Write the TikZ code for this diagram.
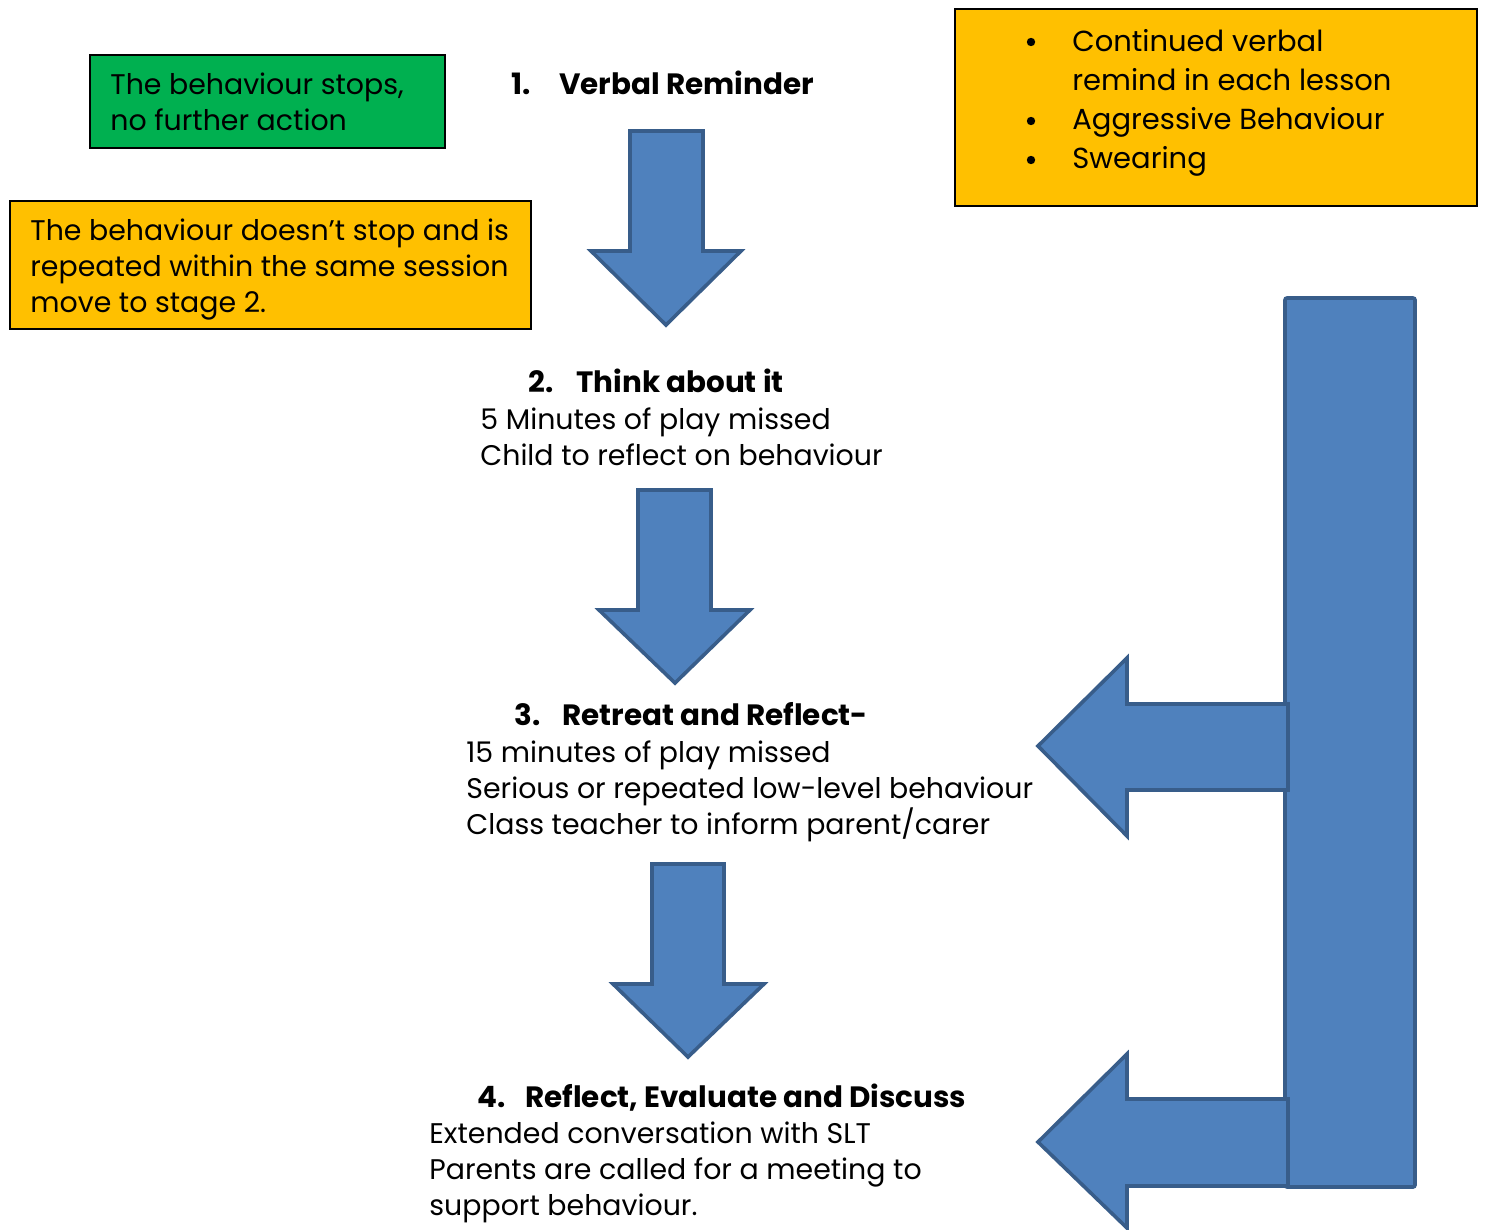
\documentclass[tikz,border=0pt]{standalone}
\usepackage{fontspec}
\setmainfont{Poppins}
\definecolor{arrowfill}{HTML}{4F81BD}
\definecolor{arrowline}{HTML}{385D8A}
\definecolor{greenbox}{HTML}{00B050}
\definecolor{orangebox}{HTML}{FFC000}
\begin{document}
\begin{tikzpicture}[x=0.5pt,y=-0.5pt,
  body/.style={font=\fontsize{14.2}{18}\selectfont, inner sep=0pt, anchor=base west, align=left},
  head/.style={font=\bfseries\fontsize{14.7}{18}\selectfont, inner sep=0pt, anchor=base west},
  listtext/.style={font=\fontsize{14.5}{19.5}\selectfont, inner sep=0pt, anchor=base west, align=left},
  bulletmark/.style={circle, fill=black, inner sep=0pt, minimum size=4.2pt},
  blockarrow/.style={fill=arrowfill, draw=arrowline, line width=1.8pt, line join=miter},
  notebox/.style={draw=black, line width=0.7pt}]
\useasboundingbox (0,0) rectangle (1485,1230);

% boxes
\draw[notebox, fill=greenbox] (90,55) rectangle (445,148);
\draw[notebox, fill=orangebox] (10,201) rectangle (531,329);
\draw[notebox, fill=orangebox] (955,9) rectangle (1477,206);

% multi-line texts are placed by the baseline of their last line
\node[body] (stops) at (110,131) {The behaviour stops,\\no further action};
\node[body] (repeat) at (30,313) {The behaviour doesn’t stop and is\\repeated within the same session\\move to stage 2.};

\node[bulletmark] (b1) at (1031,42) {};
\node[bulletmark] (b2) at (1031,121) {};
\node[bulletmark] (b3) at (1031,160) {};
\node[listtext] (list) at (1072,169) {Continued verbal\\remind in each lesson\\Aggressive Behaviour\\Swearing};

% headings and texts
\node[head] (s1) at (511,95) {\makebox[24pt][l]{1.}Verbal Reminder};
\node[head] (s2) at (528,393) {\makebox[24pt][l]{2.}Think about it};
\node[body] (t2) at (480,466) {5 Minutes of play missed\\Child to reflect on behaviour};
\node[head] (s3) at (514,725) {\makebox[24pt][l]{3.}Retreat and Reflect-};
\node[body] (t3) at (466,834) {15 minutes of play missed\\Serious or repeated low-level behaviour\\Class teacher to inform parent/carer};
\node[head] (s4) at (477,1107) {\makebox[24pt][l]{4.}Reflect, Evaluate and Discuss};
\node[body] (t4) at (429,1215) {Extended conversation with SLT\\Parents are called for a meeting to\\support behaviour.};

% down arrows
\draw[blockarrow] (630,131) -- (703,131) -- (703,251) -- (741,251) -- (666,325) -- (591,251) -- (630,251) -- cycle;
\draw[blockarrow] (638,490) -- (711,490) -- (711,610) -- (750,610) -- (675,683) -- (599,610) -- (638,610) -- cycle;
\draw[blockarrow] (652,864) -- (724,864) -- (724,984) -- (764,984) -- (688,1057) -- (613,984) -- (652,984) -- cycle;

% tall bar
\draw[blockarrow, rounded corners=1pt] (1285,298) rectangle (1415,1187);

% left arrows
\draw[blockarrow] (1288,704) -- (1288,790) -- (1127,790) -- (1127,836) -- (1038,746) -- (1127,658) -- (1127,704) -- cycle;
\draw[blockarrow] (1288,1099) -- (1288,1186) -- (1127,1186) -- (1127,1228) -- (1038,1142) -- (1127,1054) -- (1127,1099) -- cycle;
\end{tikzpicture}
\end{document}
